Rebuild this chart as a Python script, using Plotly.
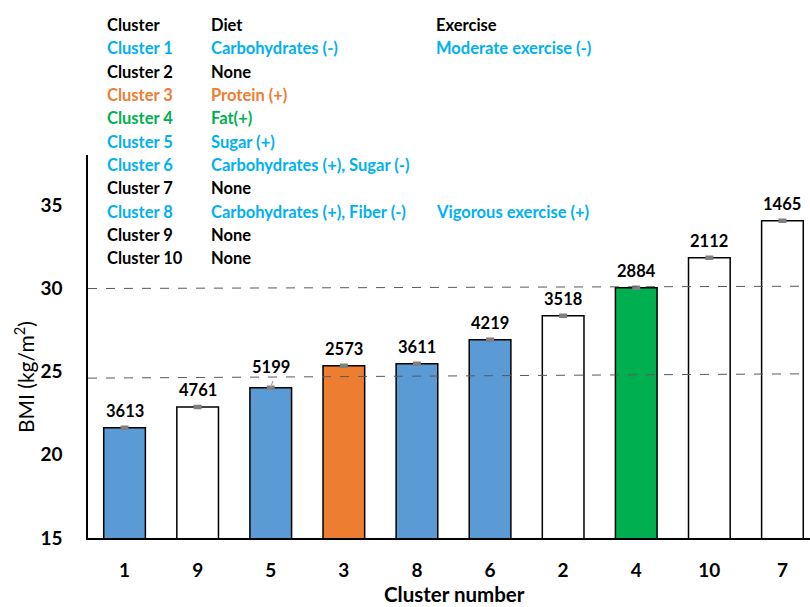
import plotly.graph_objects as go

# Clusters ordered by mean BMI
clusters = ["1", "9", "5", "3", "8", "6", "2", "4", "10", "7"]
bmi = [21.62, 22.86, 24.03, 25.34, 25.47, 26.91, 28.35, 30.03, 31.83, 34.05]
bmi_err = [0.06, 0.06, 0.06, 0.06, 0.06, 0.06, 0.06, 0.06, 0.06, 0.06]
counts = [3613, 4761, 5199, 2573, 3611, 4219, 3518, 2884, 2112, 1465]
bar_colors = ["#5B9BD5", "#FFFFFF", "#5B9BD5", "#ED7D31", "#5B9BD5",
              "#5B9BD5", "#FFFFFF", "#00B050", "#FFFFFF", "#FFFFFF"]

# Reference lines (left end, right end) in BMI units
ref_lines = [(24.60, 24.86), (29.98, 30.12)]

# Legend table of dietary / exercise associations
table_header = ["Cluster", "Diet", "Exercise"]
table_clusters = ["Cluster 1", "Cluster 2", "Cluster 3", "Cluster 4", "Cluster 5",
                  "Cluster 6", "Cluster 7", "Cluster 8", "Cluster 9", "Cluster 10"]
table_diet = ["Carbohydrates (-)", "None", "Protein (+)", "Fat(+)", "Sugar (+)",
              "Carbohydrates (+), Sugar (-)", "None", "Carbohydrates (+), Fiber (-)",
              "None", "None"]
table_exercise = ["Moderate exercise (-)", "", "", "", "", "", "",
                  "Vigorous exercise (+)", "", ""]
table_colors = ["#00B0F0", "#000000", "#ED7D31", "#00B050", "#00B0F0",
                "#00B0F0", "#000000", "#00B0F0", "#000000", "#000000"]

W, H = 810, 607
ML, MR, MT, MB = 88, 0, 155, 69
FONT = "Lato"


def px_x(px):
    return (px - ML) / (W - ML - MR)


def px_y(py):
    return (H - MB - py) / (H - MT - MB)


fig = go.Figure()
fig.add_trace(go.Bar(
    x=clusters, y=bmi,
    width=0.57,
    marker=dict(color=bar_colors, line=dict(color="#000000", width=1.5)),
    error_y=dict(type="data", array=bmi_err, visible=True,
                 color="#7F7F7F", thickness=2.5, width=4),
    showlegend=False,
    hoverinfo="x+y",
))

annotations = []
# sample-size labels above bars (x given as category index)
for i, (c, v, n) in enumerate(zip(clusters, bmi, counts)):
    shift = 21 if c == "5" else 17
    annotations.append(dict(
        x=i, y=v, xref="x", yref="y", text=str(n), showarrow=False,
        yshift=shift, yanchor="middle",
        font=dict(family=FONT, size=16.5, color="#000000", weight="bold"),
    ))

# table text
col_x = [105, 209, 434]
row0, row_step = 25, 23.33
for j, h in enumerate(table_header):
    annotations.append(dict(
        x=px_x(col_x[j]), y=px_y(row0), xref="paper", yref="paper",
        text=h, showarrow=False, xanchor="left", yanchor="middle",
        font=dict(family=FONT, size=16.5, color="#000000", weight="bold"),
    ))
for r in range(len(table_clusters)):
    yy = px_y(row0 + (r + 1) * row_step)
    for j, txt in enumerate([table_clusters[r], table_diet[r], table_exercise[r]]):
        if not txt:
            continue
        annotations.append(dict(
            x=px_x(col_x[j]), y=yy, xref="paper", yref="paper",
            text=txt, showarrow=False, xanchor="left", yanchor="middle",
            font=dict(family=FONT, size=16.5, color=table_colors[r], weight="bold"),
        ))

# y-axis title
annotations.append(dict(
    x=px_x(24), y=px_y(377), xref="paper", yref="paper",
    text="BMI (kg/m<sup>2</sup>)", showarrow=False, textangle=-90,
    xanchor="center", yanchor="middle",
    font=dict(family=FONT, size=21, color="#000000"),
))
# x-axis title
annotations.append(dict(
    x=px_x(454), y=px_y(594), xref="paper", yref="paper",
    text="Cluster number", showarrow=False,
    xanchor="center", yanchor="middle",
    font=dict(family=FONT, size=20.5, color="#000000", weight="bold"),
))

shapes = []
for y0, y1 in ref_lines:
    shapes.append(dict(
        type="line", xref="paper", yref="y",
        x0=0, x1=px_x(805), y0=y0, y1=y1,
        line=dict(color="#595959", width=1, dash="dash"),
    ))
# leader line for the cluster 5 label
i5 = clusters.index("5")
shapes.append(dict(
    type="line", xref="x", yref="y",
    x0=i5 + 0.03, x1=i5, y0=bmi[i5] + 0.40, y1=bmi[i5] + 0.02,
    line=dict(color="#A6A6A6", width=1.2),
))

fig.update_layout(
    width=W, height=H,
    margin=dict(l=ML, r=MR, t=MT, b=MB),
    paper_bgcolor="#FFFFFF", plot_bgcolor="#FFFFFF",
    annotations=annotations, shapes=shapes,
    bargap=0.43,
    xaxis=dict(
        type="category", range=[-0.5, 9.377],
        showline=True, linecolor="#000000", linewidth=1.5,
        showgrid=False, ticks="", ticklabelstandoff=14,
        tickfont=dict(family=FONT, size=19, color="#000000", weight="bold"),
    ),
    yaxis=dict(
        range=[15, 38], tickvals=[15, 20, 25, 30, 35],
        showline=True, linecolor="#000000", linewidth=1.5,
        showgrid=False, zeroline=False, ticks="", ticklabelstandoff=20,
        tickfont=dict(family=FONT, size=19, color="#000000", weight="bold"),
    ),
)

fig.write_html("out.html")
